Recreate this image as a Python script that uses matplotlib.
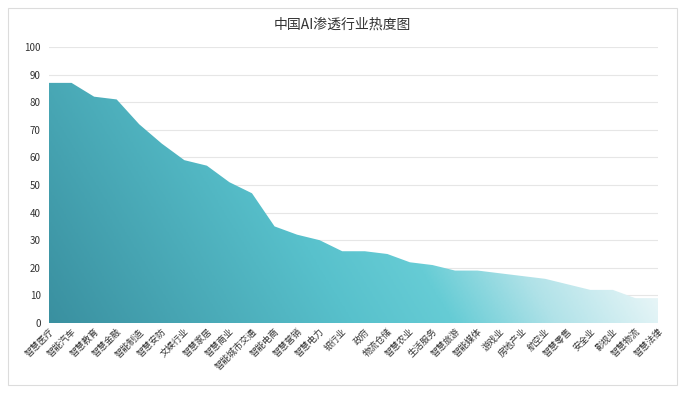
import numpy as np
import matplotlib.pyplot as plt
from matplotlib.colors import LinearSegmentedColormap
from matplotlib.patches import Rectangle

plt.rcParams['font.family'] = ['Noto Sans CJK SC', 'DejaVu Sans']

# industries and heat values
industries = ['智慧医疗', '智能汽车', '智慧教育', '智慧金融', '智能制造', '智慧安防', '文娱行业',
              '智慧家居', '智慧商业', '智能城市交通', '智能电商', '智慧营销', '智慧电力', '银行业',
              '政府', '物流仓储', '智慧农业', '生活服务', '智慧旅游', '智能媒体', '游戏业',
              '房地产业', '航空业', '智慧零售', '安全业', '影视业', '智慧物流', '智慧法律']
heat = [87, 87, 82, 81, 72, 65, 59, 57, 51, 47, 35, 32, 30, 26,
        26, 25, 22, 21, 19, 19, 18, 17, 16, 14, 12, 12, 9, 9]
yticks = list(range(0, 101, 10))

fig = plt.figure(figsize=(6.85, 3.93), dpi=100)
fig.patches.append(Rectangle((8 / 685, 8 / 393), 669 / 685, 377 / 393, transform=fig.transFigure,
                             fill=False, edgecolor='#dcdcdc', linewidth=0.8))
ax = fig.add_axes([49 / 685, 1 - 323 / 393, 609 / 685, 276 / 393])

x = np.arange(len(industries))
ax.set_xlim(0, len(industries) - 1)
ax.set_ylim(0, 100)

# gradient fill clipped to the area
poly = ax.fill_between(x, heat, 0, color='none', linewidth=0)
cmap = LinearSegmentedColormap.from_list('teal', [
    (0.0, '#3a90a0'), (0.45, '#58c1cc'), (0.6, '#66ccd5'), (0.75, '#b0e2e8'),
    (0.92, '#e6f5f7'), (1.0, '#f2fafb')])
gx, gy = np.meshgrid(np.linspace(0, 1, 400), np.linspace(0, 1, 200))
grad = np.clip(gx * 0.9 + gy * 0.25, 0, 1)
img = ax.imshow(grad, extent=[0, len(industries) - 1, 0, 100], origin='lower',
                aspect='auto', cmap=cmap, vmin=0, vmax=1, zorder=2)
path = poly.get_paths()[0]
img.set_clip_path(path, transform=ax.transData)

for v in yticks[1:]:
    ax.axhline(v, color='#e6e6e6', linewidth=0.8, zorder=1)

ax.set_yticks(yticks)
ax.set_xticks(x)
ax.set_xticklabels(industries, rotation=45, ha='right', rotation_mode='anchor', fontsize=6.5, color='#333333')
ax.tick_params(axis='y', labelsize=7, labelcolor='#333333', length=0, pad=6)
ax.tick_params(axis='x', length=0, pad=3)
for s in ax.spines.values():
    s.set_visible(False)

fig.text(0.5, 1 - 25 / 393, '中国AI渗透行业热度图', ha='center', va='center', fontsize=10, color='#333333')

fig.savefig('out.png', dpi=100)
